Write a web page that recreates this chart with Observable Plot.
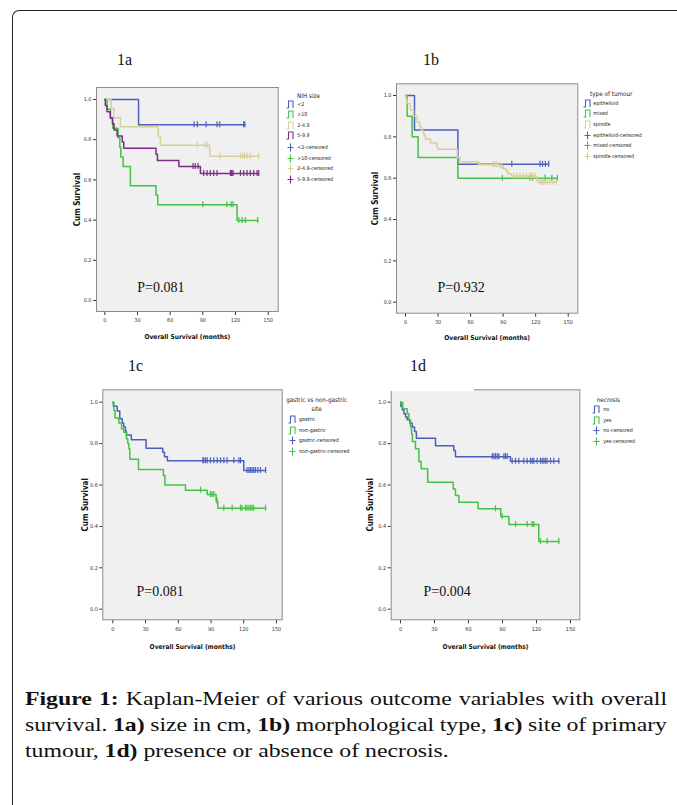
<!DOCTYPE html>
<html><head><meta charset="utf-8">
<script src="https://cdn.jsdelivr.net/npm/d3@7"></script>
<script src="https://cdn.jsdelivr.net/npm/@observablehq/plot@0.6"></script>
<style>
body{margin:0;background:#fff;}
#page{position:relative;width:677px;height:805px;overflow:hidden;background:#fff;}
.frameout{position:absolute;left:12px;top:10px;width:720px;height:840px;border-left:1.5px solid #222;border-top:1.5px solid #222;border-top-left-radius:7px;}
.panel{position:absolute;}
.plabel{position:absolute;font-family:"Liberation Serif","Times New Roman",serif;font-size:16px;line-height:16px;color:#111;}
.lg{position:absolute;font-family:"Liberation Sans Narrow","DejaVu Sans Condensed","Liberation Sans",Arial,sans-serif;color:#222;white-space:nowrap;}
#cap{position:absolute;left:25px;top:686px;font-family:"Liberation Serif","Times New Roman",serif;font-size:19px;line-height:26px;color:#111;transform-origin:0 0;}
#cap div{white-space:nowrap;}
</style>
</head><body>
<div id="page">
<div class="frameout"></div>
<div id="cap">
<div><b>Figure 1:</b> Kaplan-Meier of various outcome variables with overall</div>
<div>survival. <b>1a)</b> size in cm, <b>1b)</b> morphological type, <b>1c)</b> site of primary</div>
<div>tumour, <b>1d)</b> presence or absence of necrosis.</div>
</div>
</div>
<script>
// ---------------- DATA ----------------
const xTicks = [0, 30, 60, 90, 120, 150];
const yTicks = [0, 0.2, 0.4, 0.6, 0.8, 1.0];
const xTitle = "Overall Survival (months)";
const yTitle = "Cum Survival";
const panelNames = ["1a", "1b", "1c", "1d"];
const pValues = ["P=0.081", "P=0.932", "P=0.081", "P=0.004"];
const legendTitles = [["NIH size"], ["type of tumour"], ["gastric vs non-gastric", "site"], ["necrosis"]];

// 1a: NIH size  — steps are [months, cumulative survival]
const sizeLt2Steps = [[0,1],[31,0.875]];
const sizeLt2Cens = [82,85,93,103,105.5,127.5,128.5];
const sizeGt10Steps = [[0,1],[2,0.952],[5.2,0.905],[7.3,0.857],[12.2,0.81],[13.8,0.762],[14.7,0.714],[16.8,0.667],[23.5,0.571],[47,0.524],[48.6,0.476],[121.4,0.398]];
const sizeGt10Cens = [90,112,116,117.7,123,126,129,140.4];
const size2to5Steps = [[0,1],[5.8,0.955],[8.3,0.909],[14.4,0.864],[49,0.818],[51,0.773],[96.3,0.718]];
const size2to5Cens = [84.7,92,94,105.5,124.5,126.6,128.4,130.6,133.6,141.3];
const size5to10Steps = [[0,1],[0.5,0.97],[2,0.939],[5,0.909],[7,0.879],[8.5,0.848],[11.3,0.818],[16,0.788],[17.4,0.758],[47,0.727],[48.3,0.697],[68,0.667],[87.8,0.632]];
const size5to10Cens = [81,83,85.6,90.8,93.9,96.9,100,103,115.3,116.2,116.8,117.7,124.5,127.5,130.6,133.6,136.7,139.8,141.3];

// 1b: type of tumour
const epiSteps = [[0,1],[8.3,0.833],[48.3,0.667]];
const epiCens = [98,124,126.3,129,132];
const mixedSteps = [[0,1],[1.5,0.9],[6.1,0.8],[11.6,0.7],[48.3,0.6]];
const mixedCens = [89.3,114.7,117,128.7,134.9,140];
const spindleSteps = [[0,1],[0.5,0.98],[1.5,0.96],[4.5,0.93],[7.5,0.9],[10.6,0.87],[13,0.85],[14.5,0.83],[16.8,0.81],[18.3,0.79],[23,0.77],[29,0.75],[30,0.74],[47.7,0.7],[50.5,0.68],[67.3,0.665],[87,0.655],[90.5,0.645],[93,0.635],[94.5,0.62],[97.8,0.61],[120.8,0.59],[122.3,0.58]];
const spindleCens = [81,82.6,84.1,88.6,100,102.5,105.5,108.5,111.6,114.7,115.6,117,119.3,124,125.5,127,128.6,130.7,133,136,139];

// 1c: gastric vs non-gastric site
const gastricSteps = [[0,1],[0.5,0.98],[4,0.957],[6.4,0.92],[8.6,0.9],[10,0.88],[11.6,0.86],[12.5,0.842],[17,0.818],[30.5,0.778],[45.8,0.758],[47.4,0.737],[50,0.717],[120,0.67]];
const gastricCens = [82.5,83.4,85,86.5,89.5,92.5,95.7,98.7,101.8,104.8,110.9,115.5,117,123,124.7,126.2,127.7,129.2,130.8,132.9,135.3,140];
const nonGastricSteps = [[0,1],[1,0.96],[2,0.924],[5.5,0.9],[8,0.87],[10,0.855],[12.5,0.823],[13.7,0.8],[14.7,0.775],[15.6,0.725],[23.5,0.675],[46.4,0.646],[47.7,0.6],[66.6,0.575],[86.5,0.554],[94.7,0.522],[96.2,0.488]];
const nonGastricCens = [80.4,89.5,91,92.6,95.5,101.7,109.4,117,118.5,121.6,123,124.7,126.2,127.7,129.2,140];

// 1d: necrosis
const necNoSteps = [[0,1],[0.3,0.98],[1.5,0.963],[3,0.944],[4.5,0.928],[5.9,0.915],[8.2,0.9],[10.3,0.88],[12.4,0.858],[14,0.826],[30.9,0.79],[47,0.767],[48.5,0.737],[97,0.715]];
const necNoCens = [80.9,82.4,83.8,85.3,86.8,91.2,92.6,94.1,98.5,101.5,104.4,108.8,111.8,114.7,116.2,117.6,120.6,123.5,125,126.5,127.9,129.4,132.4,135.3,139.7];
const necYesSteps = [[0,1],[2,0.968],[5.9,0.944],[7.4,0.915],[8.8,0.882],[9.7,0.847],[10.5,0.81],[13.2,0.775],[16.2,0.713],[18.2,0.678],[24,0.613],[46.5,0.581],[48.5,0.549],[51.5,0.517],[68.5,0.485],[88.5,0.448],[95.6,0.409],[122,0.327]];
const necYesCens = [83.8,89.7,101.5,111.8,116.2,117.6,123.5,129.4,139.7];

// ---------------- STYLE ----------------
const C = {blue:"#4b5fbf", green:"#45c145", tan:"#d8cf9a", purple:"#7a2f84"};
const SANS = '"Liberation Sans Narrow","DejaVu Sans Condensed","Liberation Sans",Arial,sans-serif';

const groups = [
  [{name:"<2", color:C.blue, steps:sizeLt2Steps, cens:sizeLt2Cens},
   {name:">10", color:C.green, steps:sizeGt10Steps, cens:sizeGt10Cens},
   {name:"2-4.9", color:C.tan, steps:size2to5Steps, cens:size2to5Cens},
   {name:"5-9.9", color:C.purple, steps:size5to10Steps, cens:size5to10Cens}],
  [{name:"epithelioid", color:C.blue, steps:epiSteps, cens:epiCens},
   {name:"mixed", color:C.green, steps:mixedSteps, cens:mixedCens},
   {name:"spindle", color:C.tan, steps:spindleSteps, cens:spindleCens}],
  [{name:"gastric", color:C.blue, steps:gastricSteps, cens:gastricCens},
   {name:"non-gastric", color:C.green, steps:nonGastricSteps, cens:nonGastricCens}],
  [{name:"no", color:C.blue, steps:necNoSteps, cens:necNoCens},
   {name:"yes", color:C.green, steps:necYesSteps, cens:necYesCens}]
];

// layout (pixels)
const layout = [
  {left:56, top:80, width:226, height:265, mL:40, mR:4.3, mT:7, mB:34, iL:8.3, iR:10, iT:12, iB:11, yDx:-19, xDy:25, pDx:40.7, pDy:-24,
   lab:[117,60], lg:{titleX:297, titleY:95.7, center:false, symX:290, textX:297.3, y0:104.3, gap:10.4, extra:2}},
  {left:356, top:76, width:226, height:270, mL:40, mR:4.7, mT:7.3, mB:33.3, iL:9, iR:9.6, iT:11.7, iB:11, yDx:-21, xDy:25, pDx:41, pDy:-26,
   lab:[423,60], lg:{titleX:590, titleY:94, center:false, symX:587.7, textX:593.3, y0:103.3, gap:10.6, extra:0}},
  {left:62, top:382, width:224, height:272, mL:40.3, mR:4.3, mT:7.3, mB:34.7, iL:10, iR:5.7, iT:12.4, iB:10.6, yDx:-17.3, xDy:26.7, pDx:33.7, pDy:-28.6,
   lab:[128,366], lg:{titleX:316.7, titleY:400, center:true, symX:292.3, textX:299, y0:419.3, gap:10.7, extra:0}},
  {left:350, top:382, width:234, height:272, mL:40.7, mR:4.7, mT:7.3, mB:34.7, iL:9.3, iR:9.3, iT:12.4, iB:10.6, yDx:-20.7, xDy:26.7, pDx:32.3, pDy:-28.6,
   lab:[410,366], lg:{titleX:596.7, titleY:400, center:false, symX:596.7, textX:603.3, y0:409.3, gap:10.8, extra:0}}
];

function lineData(g) {
  const last = g.steps[g.steps.length - 1];
  const end = Math.max(last[0], ...g.cens);
  return [...g.steps.map(([t, s]) => ({t, s})), {t: end, s: last[1]}];
}
function survAt(steps, t) {
  let s = steps[0][1];
  for (const [tt, ss] of steps) if (tt <= t) s = ss;
  return s;
}

const page = document.getElementById("page");

groups.forEach((gs, k) => {
  const L = layout[k];
  const marks = [Plot.frame({fill:"#f0f0f0", stroke:null})];
  gs.forEach(g => {
    marks.push(Plot.line(lineData(g), {x:"t", y:"s", curve:"step-after", stroke:g.color, strokeWidth:1.5}));
  });
  gs.forEach(g => {
    marks.push(Plot.ruleX(g.cens.map(t => ({t, s: survAt(g.steps, t)})),
      {x:"t", y1:"s", y2:"s", insetTop:-3, insetBottom:-3, stroke:g.color, strokeWidth:1.2}));
  });
  marks.push(Plot.frame({stroke:"#8c8c8c", strokeWidth:1}));
  marks.push(Plot.text([pValues[k]], {frameAnchor:"bottom-left", dx:L.pDx, dy:L.pDy, textAnchor:"start", lineAnchor:"middle",
    fontFamily:'"Liberation Serif","Times New Roman",serif', fontSize:14, fill:"#111"}));
  marks.push(Plot.text([xTitle], {frameAnchor:"bottom", dy:L.xDy, lineAnchor:"middle", fontWeight:"bold", fontSize:6.6, fill:"#111"}));
  marks.push(Plot.text([yTitle], {frameAnchor:"left", dx:L.yDx, rotate:-90, textAnchor:"middle", lineAnchor:"middle", fontWeight:"bold", fontSize:8, fill:"#111"}));

  const svg = Plot.plot({
    width:L.width, height:L.height,
    marginLeft:L.mL, marginRight:L.mR, marginTop:L.mT, marginBottom:L.mB,
    style:{fontFamily:SANS, fontSize:"5.5px", background:"transparent", color:"#333", overflow:"visible"},
    x:{domain:[0,150], ticks:xTicks, insetLeft:L.iL, insetRight:L.iR, tickSize:4, tickPadding:3, label:null},
    y:{domain:[0,1], ticks:yTicks, insetTop:L.iT, insetBottom:L.iB, tickSize:3, tickPadding:2, label:null, tickFormat:d3.format(".1f")},
    marks
  });
  const wrap = document.createElement("div");
  wrap.className = "panel";
  wrap.style.left = L.left + "px";
  wrap.style.top = L.top + "px";
  wrap.appendChild(svg);
  page.appendChild(wrap);

  // panel label
  const lab = document.createElement("div");
  lab.className = "plabel";
  lab.textContent = panelNames[k];
  lab.style.left = L.lab[0] + "px";
  lab.style.top = (L.lab[1] - 8) + "px";
  page.appendChild(lab);

  // legend
  const lg = L.lg;
  legendTitles[k].forEach((t, i) => {
    const d = document.createElement("div");
    d.className = "lg";
    d.textContent = t;
    d.style.fontSize = "6.3px";
    d.style.lineHeight = "8px";
    d.style.top = (lg.titleY + i * 9.3 - 4) + "px";
    if (lg.center) { d.style.left = (lg.titleX - 40) + "px"; d.style.width = "80px"; d.style.textAlign = "center"; }
    else d.style.left = lg.titleX + "px";
    page.appendChild(d);
  });
  const items = [...gs.map(g => ({label:g.name, color:g.color, kind:"step"})),
                 ...gs.map(g => ({label:g.name + "-censored", color:g.color, kind:"plus"}))];
  items.forEach((it, i) => {
    const y = lg.y0 + i * lg.gap + (it.kind === "plus" ? lg.extra : 0);
    const ns = "http://www.w3.org/2000/svg";
    const s = document.createElementNS(ns, "svg");
    s.setAttribute("width", 9); s.setAttribute("height", 9);
    s.style.position = "absolute";
    s.style.left = (lg.symX - 4.5) + "px";
    s.style.top = (y - 4.5) + "px";
    const p = document.createElementNS(ns, "path");
    p.setAttribute("d", it.kind === "step" ? "M0.5,8 H2.5 V1 H7 V8" : "M4.5,0.5 V8.5 M1.5,4.5 H7.5");
    p.setAttribute("stroke", it.color); p.setAttribute("fill", "none"); p.setAttribute("stroke-width", "1.1");
    s.appendChild(p);
    page.appendChild(s);
    const d = document.createElement("div");
    d.className = "lg";
    d.textContent = it.label;
    d.style.fontSize = "5.3px";
    d.style.lineHeight = "7px";
    d.style.left = lg.textX + "px";
    d.style.top = (y - 3.5) + "px";
    page.appendChild(d);
  });
});

// caption: first two lines fill the full width (justified), glyphs widened like the source face
const cap = document.getElementById("cap");
const lines = [...cap.querySelectorAll("div")];
const fullW = 642, line3W = 427;
lines.forEach(el => el.style.display = "inline-block");
const ws = lines.map(el => el.getBoundingClientRect().width);
const f = Math.min(1.25, Math.max(1, line3W / ws[2]));
[0, 1].forEach(i => {
  const gaps = (lines[i].textContent.match(/ /g) || []).length;
  lines[i].style.wordSpacing = ((fullW / f - ws[i]) / gaps) + "px";
});
lines.forEach(el => el.style.display = "block");
cap.style.transform = "scaleX(" + f + ")";

// small white gap on top edge of panel 1d frame (as in the source image)
const notch = document.createElement("div");
notch.style.cssText = "position:absolute;left:390px;top:387.5px;width:84px;height:3.5px;background:#fff;";
page.appendChild(notch);
</script>
</body></html>
